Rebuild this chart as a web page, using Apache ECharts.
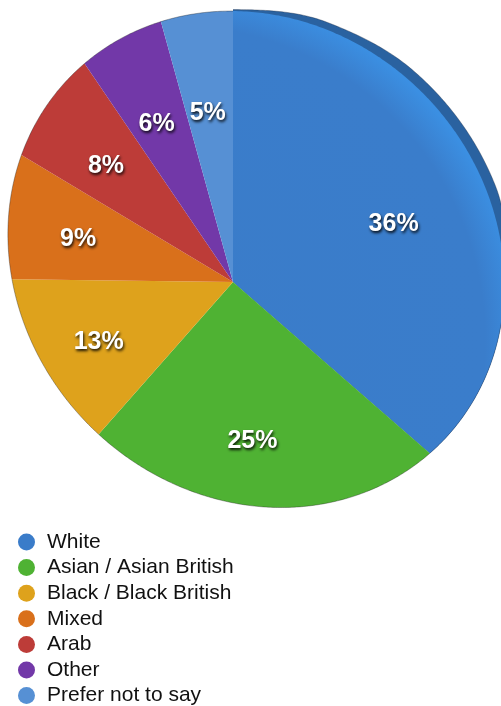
<!DOCTYPE html>
<html><head><meta charset="utf-8">
<style>html,body{margin:0;padding:0;background:#fff}#c{width:501px;height:706px}</style>
<script src="https://cdn.jsdelivr.net/npm/echarts@6/dist/echarts.min.js"></script>
</head><body><div id="c"></div>
<script>
const categories = ['White','Asian / Asian British','Black / Black British','Mixed','Arab','Other','Prefer not to say'];
const shares = [36.4, 25.1, 13.7, 8.4, 6.9, 5.2, 4.3];
const labels = ['36%','25%','13%','9%','8%','6%','5%'];
const colors = ['#3a7cc9','#4fb233','#dea21c','#d9701b','#bd3c38','#7238a8','#5690d4'];

// layout constants
const labelRadius = [171,158,147,161,172,177,173];
const labelNudge = [[5,13],[9,1],[0,0],[0,1],[-2,2],[-2,3],[-2,3]];
const apex = [233,282];
// points read on the edge of the tilted disc; an ellipse is fitted through them
const outline = [[233,11],[300,23],[400,67],[433,100],[485,190],[499,250],[501,290],[492,360],[482,390],[430,455],[400,473],[350,500],[277,509],[167,477],[98,434],[50,370],[8.5,277],[6,240],[21,155],[85,65],[160,24]];
// thickness of the dark edge visible behind the first slice, by angle
const edgeAngles = [0,20,40,70,92,100,140];
const edgeWidths = [1.5,7,10,10,1,0,0];

const TAU=Math.PI*2;
// algebraic least squares: a u^2 + b uv + c v^2 + d u + e v = 1, relative to the apex
function fitConic(pts){
  const M=Array.from({length:5},()=>new Array(6).fill(0));
  const S=300;
  pts.forEach(p=>{
    const u=(p[0]-apex[0])/S, v=(p[1]-apex[1])/S, r=[u*u,u*v,v*v,u,v];
    for(let i=0;i<5;i++){ for(let j=0;j<5;j++) M[i][j]+=r[i]*r[j]; M[i][5]+=r[i]; }
  });
  for(let i=0;i<5;i++){
    let p=i; for(let k=i+1;k<5;k++) if(Math.abs(M[k][i])>Math.abs(M[p][i])) p=k;
    [M[i],M[p]]=[M[p],M[i]];
    for(let k=0;k<5;k++){ if(k===i) continue; const f=M[k][i]/M[i][i]; for(let j=i;j<6;j++) M[k][j]-=f*M[i][j]; }
  }
  return {c:M.map((row,i)=>row[5]/row[i]),S};
}
const conic=fitConic(outline);
function rimAt(a){
  const ux=Math.sin(a), uy=-Math.cos(a), [A,B,C,D,E]=conic.c;
  const qa=A*ux*ux+B*ux*uy+C*uy*uy, qb=D*ux+E*uy;
  return conic.S*(-qb+Math.sqrt(qb*qb+4*qa))/(2*qa);
}
function edgeAt(a){
  const deg=a/TAU*360;
  for(let i=0;i<edgeAngles.length-1;i++){
    if(deg<=edgeAngles[i+1]){
      const t=(deg-edgeAngles[i])/(edgeAngles[i+1]-edgeAngles[i]);
      const s=t*t*(3-2*t);
      return edgeWidths[i]+(edgeWidths[i+1]-edgeWidths[i])*s;
    }
  }
  return 0;
}
function arc(a0,a1,grow){
  const pts=[];
  const n=Math.max(2,Math.ceil((a1-a0)/0.01));
  for(let i=0;i<=n;i++){
    const a=a0+(a1-a0)*i/n, d=rimAt(a)+(grow?edgeAt(a):0);
    pts.push([apex[0]+Math.sin(a)*d, apex[1]-Math.cos(a)*d]);
  }
  return pts;
}
const total = shares.reduce((a,b)=>a+b,0);
let acc=0;
const series = categories.map((name,i)=>{
  const a0=acc/total*TAU; acc+=shares[i];
  const a1=acc/total*TAU;
  return {
    name, type:'custom', coordinateSystem:'none', silent:true, animation:false,
    itemStyle:{color:colors[i]},
    data:[[a0,a1]], z:2,
    renderItem(params,api){
      const s=api.value(0), e=api.value(1), mid=(s+e)/2;
      const kids=[];
      const edge=arc(s,e,false);
      if(i===0){
        const outer=arc(s,e,true);
        kids.push({type:'polygon',shape:{points:[apex].concat(outer)},style:{fill:'#2a62a0'}});
        kids.push({type:'polygon',shape:{points:[apex].concat(edge)},style:{fill:{
          type:'radial',x:170,y:340,r:358,global:true,
          colorStops:[{offset:0,color:'#3a7cc9'},{offset:0.88,color:'#3a7dcb'},{offset:0.98,color:'#3b8fe2'},{offset:1,color:'#3b8fe2'}]
        }}});
        kids.push({type:'polyline',shape:{points:outer},style:{fill:null,stroke:'rgba(30,40,60,0.35)',lineWidth:1}});
      } else {
        kids.push({type:'polygon',shape:{points:[apex].concat(edge)},style:{fill:colors[i]}});
        kids.push({type:'polyline',shape:{points:edge},style:{fill:null,stroke:'rgba(30,30,30,0.35)',lineWidth:1}});
      }
      kids.push({type:'text',z2:10,
        x:apex[0]+Math.sin(mid)*labelRadius[i]+labelNudge[i][0],
        y:apex[1]-Math.cos(mid)*labelRadius[i]+labelNudge[i][1],
        style:{text:labels[i],align:'center',verticalAlign:'middle',fill:'#fff',
          font:'bold 25px "Liberation Sans", Arial, sans-serif',
          textShadowColor:'rgba(0,0,0,0.9)',textShadowBlur:3,textShadowOffsetX:1,textShadowOffsetY:2}});
      return {type:'group',children:kids};
    }
  };
});
const chart=echarts.init(document.getElementById('c'),null,{renderer:'canvas'});
chart.setOption({
  animation:false,
  backgroundColor:'#fff',
  legend:{
    data:categories, orient:'vertical', left:18, top:531.5, height:200, padding:0,
    icon:'circle', itemWidth:17, itemHeight:17, itemGap:4.6, selectedMode:false,
    textStyle:{color:'#111',fontSize:21,fontFamily:'"Liberation Sans", Arial, sans-serif',padding:[4,0,0,7]}
  },
  series
});
</script></body></html>
